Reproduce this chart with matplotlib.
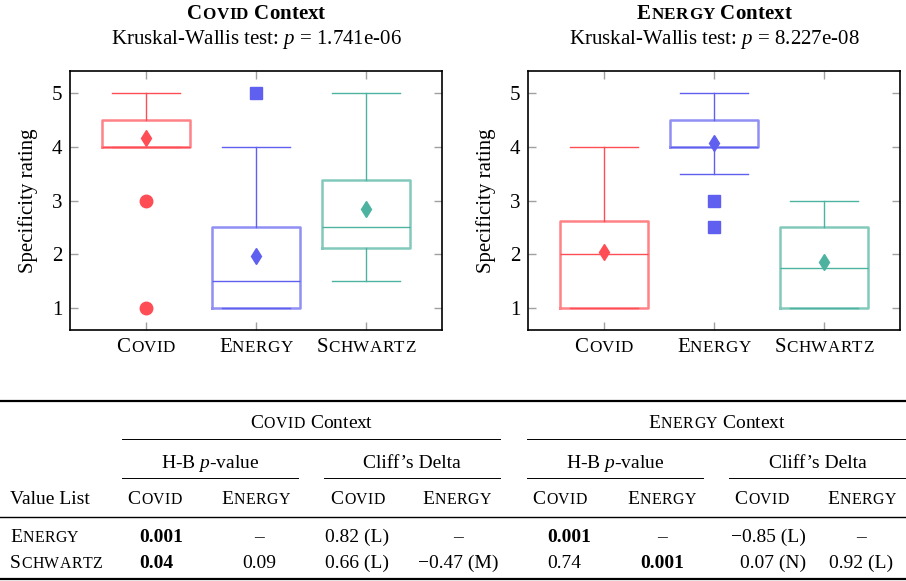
import matplotlib
matplotlib.use('Agg')
import matplotlib.pyplot as plt
from matplotlib import font_manager, ft2font
from matplotlib.lines import Line2D

plt.rcParams['font.family'] = ['Liberation Serif', 'DejaVu Serif']
plt.rcParams['mathtext.fontset'] = 'custom'
plt.rcParams['mathtext.rm'] = 'Liberation Serif'
plt.rcParams['mathtext.it'] = 'Liberation Serif:italic'
plt.rcParams['mathtext.bf'] = 'Liberation Serif:bold'

# ---- data -------------------------------------------------------------
groups = ['Covid', 'Energy', 'Schwartz']
contexts = ['Covid', 'Energy']
kw_pvalues = ['1.741e-06', '8.227e-08']

# box statistics per context (rows), in the order of groups
q1 = [[4.0, 1.0, 2.125], [1.0, 4.0, 1.0]]
medians = [[4.0, 1.5, 2.5], [2.0, 4.0, 1.75]]
q3 = [[4.5, 2.5, 3.375], [2.625, 4.5, 2.5]]
whis_lo = [[4.0, 1.0, 1.5], [1.0, 3.5, 1.0]]
whis_hi = [[5.0, 4.0, 5.0], [4.0, 5.0, 3.0]]
means = [[4.15, 1.97, 2.85], [2.05, 4.06, 1.86]]
outliers = [[[3.0, 1.0], [5.0], []], [[], [3.0, 2.5], []]]

colors = ['#ff4d55', '#6060f0', '#4db3a0']
flier_markers = ['o', 's', 'o']

# post-hoc table
row_labels = ['Energy', 'Schwartz']
col_labels = ['Covid', 'Energy']
hb_pvalues = [[['0.001', '–'], ['0.04', '0.09']],
              [['0.001', '–'], ['0.74', '0.001']]]
cliffs_delta = [[['0.82 (L)', '–'], ['0.66 (L)', '−0.47 (M)']],
                [['−0.85 (L)', '–'], ['0.07 (N)', '0.92 (L)']]]

# ---- figure -----------------------------------------------------------
W, H = 906, 581
fig = plt.figure(figsize=(W / 100, H / 100), dpi=100)

NO_HINT = getattr(getattr(ft2font, 'LoadFlags', None), 'NO_HINTING', None)
if NO_HINT is None:
    NO_HINT = ft2font.LOAD_NO_HINTING
_fonts = {}


def advance(ch, size, weight):
    """Advance width of one character, in pixels."""
    if weight not in _fonts:
        path = font_manager.findfont(font_manager.FontProperties(
            family='Liberation Serif', weight=weight))
        _fonts[weight] = ft2font.FT2Font(path)
    f = _fonts[weight]
    f.set_size(size, 100)
    g = f.load_char(ord(ch), flags=NO_HINT)
    return g.linearHoriAdvance / 65536


def fx(x):
    return x / W


def fy(y):
    return 1 - y / H


def put(x, y, segments, size, weight='normal', ha='center', ratio=0.82, track=0.02):
    """Draw text at pixel (x, baseline y); segments are (text, smallcaps)."""
    em = size * 100 / 72
    placed = []
    pen = 0
    for seg, sc in segments:
        for ch in seg:
            s = size
            if sc and ch.islower():
                ch, s = ch.upper(), size * ratio
            if ch != ' ':
                placed.append((ch, s, pen))
            pen += advance(ch, s, weight) + (track * em if sc else 0)
    x0 = x - {'left': 0, 'center': pen / 2, 'right': pen}[ha]
    for ch, s, px in placed:
        fig.text(fx(x0 + px), fy(y), ch, fontsize=s, fontweight=weight,
                 va='baseline', ha='left')


axes_left = [70, 528]
for c, ctx in enumerate(contexts):
    ax = fig.add_axes([fx(axes_left[c]), fy(330), fx(372), 259 / H])
    stats = []
    for i, g in enumerate(groups):
        stats.append(dict(med=medians[c][i], q1=q1[c][i], q3=q3[c][i],
                          whislo=whis_lo[c][i], whishi=whis_hi[c][i],
                          mean=means[c][i], fliers=outliers[c][i]))
    parts = ax.bxp(stats, positions=[1, 2, 3], widths=0.8, capwidths=0.625,
                   showmeans=True, patch_artist=False)
    for i in range(3):
        col = colors[i]
        parts['boxes'][i].set(color=col, alpha=0.7, linewidth=1.8)
        parts['medians'][i].set(color=col, linewidth=1.0)
        for ln in parts['whiskers'][2 * i:2 * i + 2] + parts['caps'][2 * i:2 * i + 2]:
            ln.set(color=col, linewidth=1.0)
        parts['means'][i].set(marker='d', markerfacecolor=col, markeredgecolor=col,
                              markersize=8)
        parts['fliers'][i].set(marker=flier_markers[i], markerfacecolor=col,
                               markeredgecolor=col, markersize=9)

    ax.set_xlim(0.31, 3.69)
    ax.set_ylim(0.6, 5.4)
    ax.set_yticks([1, 2, 3, 4, 5])
    ax.tick_params(direction='in', length=6, width=1, color='#a0a0a0',
                   top=True, right=True, labelsize=15, pad=5.5)
    ax.tick_params(axis='x', labelbottom=False)
    for sp in ax.spines.values():
        sp.set_linewidth(1.2)
    ax.set_ylabel('Specificity rating', fontsize=15)
    ax.yaxis.set_label_coords(-0.086, 0.5)

    # group names in small capitals under the ticks
    for i, g in enumerate(groups):
        xd = ax.transData.transform((i + 1, 1))[0]
        put(xd, 352, [(g, True)], 15)

    xc = axes_left[c] + 186
    put(xc, 19, [(ctx, True), (' Context', False)], 15, weight='bold')
    fig.text(fx(xc), fy(44), 'Kruskal-Wallis test: $p$ = ' + kw_pvalues[c],
             fontsize=15, ha='center', va='baseline')

# ---- table ------------------------------------------------------------
def rule(y, x0, x1, lw):
    fig.add_artist(Line2D([fx(x0), fx(x1)], [fy(y), fy(y)], color='black',
                          linewidth=lw, transform=fig.transFigure))


TS = 14
rule(401, 0, 906, 1.6)
rule(579, 0, 906, 1.6)
rule(517, 0, 906, 1.0)
ctx_spans = [(122, 500), (527, 906)]
sub_spans = [(122, 298), (324, 500), (527, 703), (729, 906)]
for x0, x1 in ctx_spans:
    rule(439, x0, x1, 0.7)
for x0, x1 in sub_spans:
    rule(478, x0, x1, 0.7)

for c, ctx in enumerate(contexts):
    x0, x1 = ctx_spans[c]
    put((x0 + x1) / 2, 428, [(ctx, True), (' Context', False)], TS)
for k, (x0, x1) in enumerate(sub_spans):
    xc = (x0 + x1) / 2
    if k % 2 == 0:
        fig.text(fx(xc), fy(468), 'H-B $p$-value', fontsize=TS, ha='center', va='baseline')
    else:
        fig.text(fx(xc), fy(468), "Cliff’s Delta", fontsize=TS, ha='center', va='baseline')

fig.text(fx(10), fy(504), 'Value List', fontsize=TS, ha='left', va='baseline')
header_x = [155, 256, 358, 457, 560, 662, 762, 862]
for k, xc in enumerate(header_x):
    put(xc, 504, [(col_labels[k % 2], True)], TS)

row_y = [542, 568]
# anchor and alignment of the cell columns
cell_x = [139, 259, 357, 458, 547, 662, 806, 861]
cell_ha = ['left', 'center', 'center', 'center', 'left', 'center', 'right', 'center']
for r, lab in enumerate(row_labels):
    put(10, row_y[r], [(lab, True)], TS, ha='left')
    for c in range(2):
        cells = hb_pvalues[c][r] + cliffs_delta[c][r]
        for j, val in enumerate(cells):
            k = 4 * c + j
            bold = j < 2 and val != '–' and float(val) < 0.05
            fig.text(fx(cell_x[k]), fy(row_y[r]), val, fontsize=TS,
                     fontweight='bold' if bold else 'normal',
                     ha=cell_ha[k], va='baseline')

fig.savefig('out.png', dpi=100)
